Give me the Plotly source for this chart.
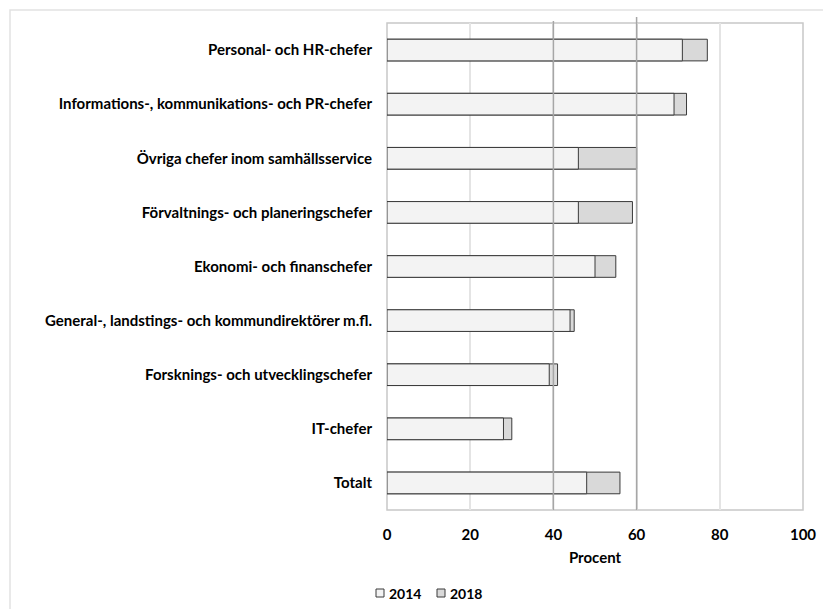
import plotly.graph_objects as go

categories = [
    'Personal- och HR-chefer',
    'Informations-, kommunikations- och PR-chefer',
    'Övriga chefer inom samhällsservice',
    'Förvaltnings- och planeringschefer',
    'Ekonomi- och finanschefer',
    'General-, landstings- och kommundirektörer m.fl.',
    'Forsknings- och utvecklingschefer',
    'IT-chefer',
    'Totalt',
]
values_2014 = [71, 69, 46, 46, 50, 44, 39, 28, 48]
values_2018 = [77, 72, 60, 59, 55, 45, 41, 30, 56]
x_ticks = [0, 20, 40, 60, 80, 100]
ref_lines = [40, 60]
series_names = ['2014', '2018']
series_colors = ['#f3f3f3', '#d9d9d9']

FONT = 'Lato, Liberation Sans, Arial'
# the page body has an 8px margin, so figure pixels = screen pixels - 8
OFF = 8
W, H = 831 - OFF, 609 - OFF
L, R, T, B = 387 - OFF, 803 - OFF, 23 - OFF, 510 - OFF
PW, PH = R - L, B - T


def px_x(p):
    return (p - OFF - L) / PW


def px_y(p):
    return (B - (p - OFF)) / PH


fig = go.Figure()

# 2018 drawn first, 2014 on top (overlay)
fig.add_trace(go.Bar(
    name='2018', y=categories, x=values_2018, orientation='h',
    width=0.4, marker=dict(color=series_colors[1], line=dict(color='#3a3a3a', width=1)),
))
fig.add_trace(go.Bar(
    name='2014', y=categories, x=values_2014, orientation='h',
    width=0.4, marker=dict(color=series_colors[0], line=dict(color='#3a3a3a', width=1)),
))

shapes = []
for v in ref_lines:
    shapes.append(dict(type='line', xref='x', yref='paper', x0=v, x1=v,
                       y0=0, y1=px_y(17 if v == 60 else 21),
                       line=dict(color='#a6a6a6', width=1.5), layer='above'))
# plot area border
shapes.append(dict(type='rect', xref='paper', yref='paper', x0=0, x1=1, y0=0, y1=1,
                   line=dict(color='#c8c8c8', width=1.5), layer='below'))
# outer chart border
shapes.append(dict(type='rect', xref='paper', yref='paper',
                   x0=px_x(10), x1=px_x(845), y0=px_y(625), y1=px_y(10),
                   line=dict(color='#e2e2e2', width=1.5), layer='below'))

# legend drawn by hand: small squares + bold labels
annotations = []
legend_x = [376, 437]
for name, color, lx in zip(series_names, series_colors, legend_x):
    shapes.append(dict(type='rect', xref='paper', yref='paper',
                       x0=px_x(lx), x1=px_x(lx + 8), y0=px_y(597), y1=px_y(589),
                       fillcolor=color, line=dict(color='#3a3a3a', width=1)))
    annotations.append(dict(text='<b>%s</b>' % name, xref='paper', yref='paper',
                            x=px_x(lx + 12), y=px_y(593), xanchor='left',
                            yanchor='middle', showarrow=False, borderpad=0,
                            font=dict(family=FONT, size=14, color='#000000')))

fig.update_layout(
    width=W, height=H,
    margin=dict(l=L, r=W - R, t=T, b=H - B),
    barmode='overlay',
    plot_bgcolor='white', paper_bgcolor='white',
    font=dict(family=FONT, size=14, color='#000000'),
    shapes=shapes,
    annotations=annotations,
    showlegend=False,
    xaxis=dict(range=[0, 100], tickvals=x_ticks, showgrid=True,
               gridcolor='#e4e4e4', gridwidth=1.5, zeroline=False,
               showline=False, ticks='', ticklabelstandoff=14, automargin=False,
               tickfont=dict(family=FONT, size=15, color='#000000', weight='bold'),
               title=dict(text='<b>Procent</b>', standoff=10,
                          font=dict(family=FONT, size=15, color='#000000'))),
    yaxis=dict(autorange='reversed', showgrid=False, zeroline=False,
               showline=False, ticks='', ticklabelstandoff=14, automargin=False,
               tickfont=dict(family=FONT, size=15, color='#000000', weight='bold')),
)

fig.write_html('out.html')
